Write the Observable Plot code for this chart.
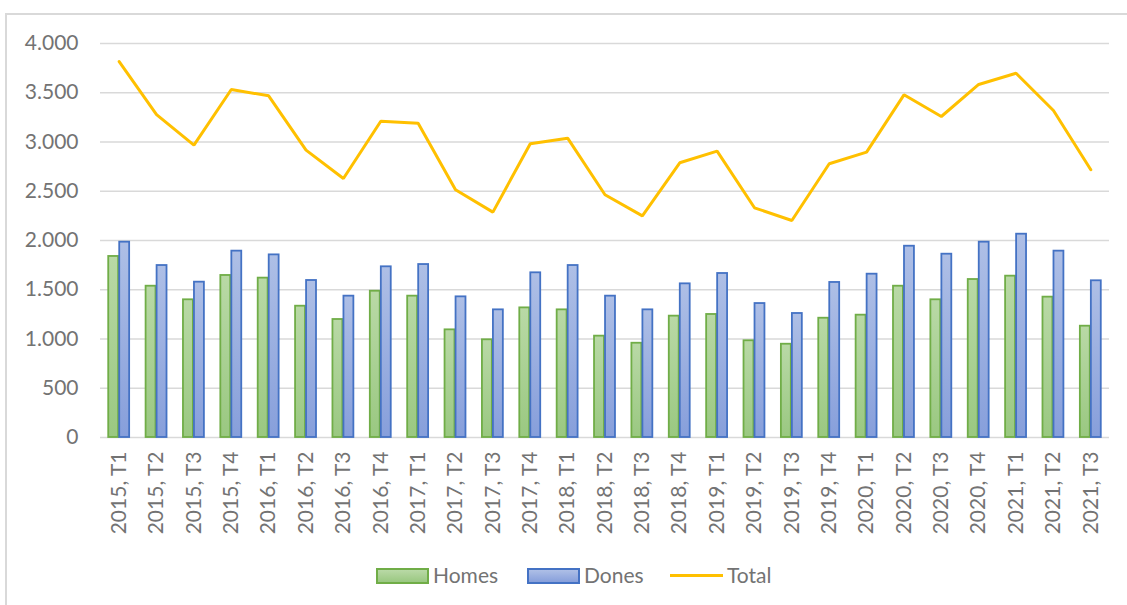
<!DOCTYPE html>
<html>
<head>
<meta charset="utf-8">
<script src="https://cdn.jsdelivr.net/npm/d3@7"></script>
<script src="https://cdn.jsdelivr.net/npm/@observablehq/plot@0.6"></script>
<style>
  html, body { margin: 0; padding: 0; background: #fff; }
  #wrap { position: relative; width: 1127px; height: 605px; overflow: hidden; font-family: Lato, "Open Sans", sans-serif; }
  #borderTop { position: absolute; left: 5px; top: 13px; width: 1122px; height: 2px; background: #d9d9d9; }
  #borderLeft { position: absolute; left: 5px; top: 13px; width: 2px; height: 592px; background: #d9d9d9; }
  #legend { position: absolute; top: 562px; left: 0; width: 1127px; height: 26px; font-size: 21px; color: #737373; }
  .item { position: absolute; top: 0; height: 26px; line-height: 26px; }
  .sw { position: absolute; top: 6px; width: 49px; height: 12px; }
  .lbl { position: absolute; top: 0; white-space: nowrap; }
</style>
</head>
<body>
<div id="wrap">
  <div id="chart"></div>
  <div id="borderTop"></div>
  <div id="borderLeft"></div>
  <div id="legend"></div>
</div>
<script>
const categories = ["2015, T1","2015, T2","2015, T3","2015, T4","2016, T1","2016, T2","2016, T3","2016, T4",
  "2017, T1","2017, T2","2017, T3","2017, T4","2018, T1","2018, T2","2018, T3","2018, T4",
  "2019, T1","2019, T2","2019, T3","2019, T4","2020, T1","2020, T2","2020, T3","2020, T4",
  "2021, T1","2021, T2","2021, T3"];
const homes = [1838,1536,1398,1645,1618,1333,1198,1485,1435,1093,992,1316,1296,1029,957,1232,
  1249,982,947,1211,1242,1536,1398,1604,1638,1425,1130];
const dones = [1983,1746,1577,1892,1854,1594,1435,1733,1756,1428,1296,1672,1746,1435,1296,1560,
  1665,1360,1259,1574,1658,1942,1861,1983,2064,1892,1591];
const total = [3817,3278,2968,3533,3469,2917,2629,3211,3191,2515,2288,2982,3039,2464,2250,2789,
  2907,2332,2203,2779,2897,3479,3259,3584,3698,3320,2718];
const yTicks = [0,500,1000,1500,2000,2500,3000,3500,4000];
const seriesNames = ["Homes","Dones","Total"];

const rows = categories.map((c, i) => ({cat: c, homes: homes[i], dones: dones[i], total: total[i]}));
const fmt = d => d3.format(",")(d).replace(/,/g, ".");

const defs = () => {
  const g = d3.create("svg:defs");
  const mk = (id, top, bot) => {
    const lg = g.append("linearGradient").attr("id", id).attr("x1", 0).attr("y1", 0).attr("x2", 0).attr("y2", 1);
    lg.append("stop").attr("offset", "0%").attr("stop-color", top);
    lg.append("stop").attr("offset", "100%").attr("stop-color", bot);
  };
  mk("gGreen", "#b9d9a6", "#9ac881");
  mk("gBlue", "#aebfe6", "#879fdb");
  return g.node();
};

const chart = Plot.plot({
  width: 1127,
  height: 605,
  marginLeft: 100,
  marginRight: 18,
  marginTop: 43,
  marginBottom: 168,
  style: {fontFamily: "Lato, 'Open Sans', sans-serif", fontSize: "21px", color: "#737373", background: "transparent"},
  x: {domain: categories, paddingInner: 0.44, paddingOuter: 0.22, round: false, label: null},
  y: {domain: [0, 4000], label: null},
  marks: [
    defs,
    Plot.ruleY(yTicks, {stroke: "#d9d9d9", strokeWidth: 1.6}),
    Plot.barY(rows, {x: "cat", y: "homes", fill: "url(#gGreen)", stroke: "#70ad47", strokeWidth: 1.8, insetRight: 11}),
    Plot.barY(rows, {x: "cat", y: "dones", fill: "url(#gBlue)", stroke: "#4472c4", strokeWidth: 1.8, insetLeft: 11}),
    Plot.line(rows, {x: "cat", y: "total", stroke: "#ffc000", strokeWidth: 3, strokeLinejoin: "miter"}),
    Plot.axisY({ticks: yTicks, tickSize: 0, tickPadding: 22, tickFormat: fmt, fontSize: 21, label: null}),
    Plot.axisX({tickSize: 0, tickPadding: 14, tickRotate: -90, fontSize: 21, label: null})
  ]
});
document.getElementById("chart").appendChild(chart);

// legend
const legend = document.getElementById("legend");
const items = [
  {name: seriesNames[0], sw: 376, lbl: 433, type: "box", bg: "linear-gradient(#b9d9a6,#9ac881)", bd: "#70ad47"},
  {name: seriesNames[1], sw: 527, lbl: 584, type: "box", bg: "linear-gradient(#aebfe6,#879fdb)", bd: "#4472c4"},
  {name: seriesNames[2], sw: 670, lbl: 727, type: "line", bd: "#ffc000"}
];
for (const it of items) {
  const sw = document.createElement("div");
  sw.className = "sw";
  sw.style.left = it.sw + "px";
  if (it.type === "box") {
    sw.style.background = it.bg;
    sw.style.border = "2px solid " + it.bd;
  } else {
    sw.style.width = "53px";
    sw.style.height = "3px";
    sw.style.top = "12px";
    sw.style.background = it.bd;
  }
  legend.appendChild(sw);
  const l = document.createElement("div");
  l.className = "lbl";
  l.style.left = it.lbl + "px";
  l.textContent = it.name;
  legend.appendChild(l);
}
</script>
</body>
</html>
